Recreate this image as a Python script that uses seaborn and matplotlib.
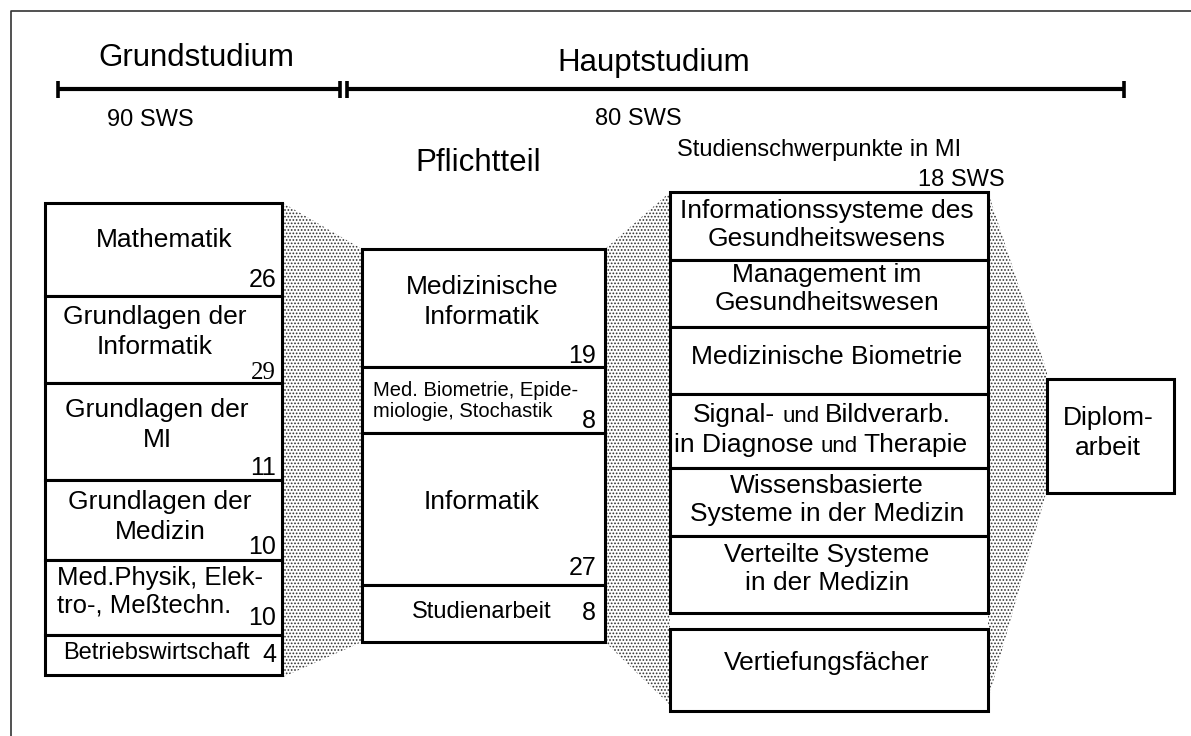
import numpy as np
import matplotlib.pyplot as plt
import seaborn as sns

# ── Daten ───────────────────────────────────────────────────────────────
phase_names = ["Grundstudium", "Hauptstudium"]
phase_sws = [90, 80]

grund_faecher = ["Mathematik", "Grundlagen der\nInformatik", "Grundlagen der\nMI",
                 "Grundlagen der\nMedizin", "Med.Physik, Elek-\ntro-, Meßtechn.",
                 "Betriebswirtschaft"]
grund_sws = [26, 29, 11, 10, 10, 4]

pflicht_titel = "Pflichtteil"
pflicht_faecher = ["Medizinische\nInformatik", "Med. Biometrie, Epide-\nmiologie, Stochastik",
                   "Informatik", "Studienarbeit"]
pflicht_sws = [19, 8, 27, 8]

schwerpunkt_titel = "Studienschwerpunkte in MI"
schwerpunkt_sws = 18
schwerpunkte = ["Informationssysteme des\nGesundheitswesens", "Management im\nGesundheitswesen",
                "Medizinische Biometrie", "Signal- und Bildverarb.\nin Diagnose und Therapie",
                "Wissensbasierte\nSysteme in der Medizin", "Verteilte Systeme\nin der Medizin"]
vertiefung = "Vertiefungsfächer"
diplom = "Diplom-\narbeit"

# ── Layout (Pixel, y nach unten) ────────────────────────────────────────
grund_x, grund_w = 45, 237
grund_edges = [203, 296, 383, 480, 560, 635, 675]
grund_text_x = [164, 155, 157, 160, 57, 156]
grund_text_y = [240, 332, 425, 517, 591, 653]
grund_num_y = [280, 373, 468, 547, 618, 655]

pflicht_x, pflicht_w = 362, 243
pflicht_edges = [249, 367, 433, 585, 642]
pflicht_text_y = [302, 401, 502, 612]
pflicht_num_y = [356, 421, 568, 613]

schwer_x, schwer_w = 670, 318
schwer_edges = [192, 260, 327, 394, 468, 536, 613]
schwer_text_y = [225, 289, 357, 428, 500, 569]

sns.set_theme(style="white")
plt.rcParams['font.family'] = ['Liberation Sans', 'DejaVu Sans']
plt.rcParams['text.color'] = 'black'
plt.rcParams['hatch.linewidth'] = 0.8

fig = plt.figure(figsize=(11.91, 7.36), dpi=100)
ax = fig.add_axes([0, 0, 1, 1])
ax.set_xlim(0, 1191)
ax.set_ylim(736, 0)
ax.axis('off')

# Rahmen
ax.plot([11, 11, 1200], [760, 11, 11], color='#333333', lw=1.2)

# Zeitleiste
lw_t = 3.0
ax.plot([58, 340], [89, 89], color='black', lw=lw_t, solid_capstyle='butt')
ax.plot([347, 1124], [89, 89], color='black', lw=lw_t, solid_capstyle='butt')
for xt in [58, 340, 347, 1124]:
    ax.plot([xt, xt], [81, 98], color='black', lw=2.6, solid_capstyle='butt')
ax.text(196, 58, phase_names[0], fontsize=22.5, ha='center', va='center')
ax.text(654, 63, phase_names[1], fontsize=22.5, ha='center', va='center')
ax.text(150, 120, f"{phase_sws[0]} SWS", fontsize=17, ha='center', va='center')
ax.text(638, 119, f"{phase_sws[1]} SWS", fontsize=17, ha='center', va='center')

# Verbindungsflächen (gepunktet)
shade = dict(facecolor='white', edgecolor='#333333', linewidth=0, hatch='.....', zorder=1)
ax.fill([283, 362, 362, 283], [203, 249, 642, 677], **shade)
ax.fill([605, 670, 670, 605], [249, 192, 705, 642], **shade)
ax.fill([988, 1047, 1047, 988], [192, 372, 490, 700], **shade)

box = dict(align='edge', color='white', edgecolor='black', linewidth=2.2, zorder=3)

# Grundstudium
tops = grund_edges[:-1]
heights = np.diff(grund_edges)
ax.bar([grund_x] * len(tops), heights, width=grund_w, bottom=tops, **box)
for lab, sws, tx, ty, ny in zip(grund_faecher, grund_sws, grund_text_x,
                                grund_text_y, grund_num_y):
    if lab.startswith("Med."):
        # linksbündig, Zeile für Zeile
        for k, line in enumerate(lab.split("\n")):
            ax.text(tx, ty - 13 + 27 * k, line, fontsize=18.5, ha='left',
                    va='center', zorder=4)
    else:
        size = 17 if lab == "Betriebswirtschaft" else 19
        ax.text(tx, ty, lab, fontsize=size, ha='center', va='center',
                linespacing=1.3, zorder=4)
    fam = ['Liberation Serif'] if sws == 29 else None
    ax.text(276, ny, str(sws), fontsize=18, ha='right', va='center', zorder=4,
            family=fam)

# Pflichtteil
ax.text(478, 163, pflicht_titel, fontsize=22.5, ha='center', va='center')
tops = pflicht_edges[:-1]
heights = np.diff(pflicht_edges)
ax.bar([pflicht_x] * len(tops), heights, width=pflicht_w, bottom=tops, **box)
for i, (lab, sws, ty, ny) in enumerate(zip(pflicht_faecher, pflicht_sws,
                                           pflicht_text_y, pflicht_num_y)):
    if i == 1:
        ax.text(373, ty, lab, fontsize=14.5, ha='left', va='center',
                linespacing=1.15, zorder=4)
    else:
        ax.text(482, ty, lab, fontsize=19 if i != 3 else 17, ha='center',
                va='center', linespacing=1.3, zorder=4)
    ax.text(596, ny, str(sws), fontsize=18, ha='right', va='center', zorder=4)

# Studienschwerpunkte
ax.text(677, 150, schwerpunkt_titel, fontsize=17, ha='left', va='center')
ax.text(1005, 180, f"{schwerpunkt_sws} SWS", fontsize=17, ha='right', va='center')
tops = schwer_edges[:-1]
heights = np.diff(schwer_edges)
ax.bar([schwer_x] * len(tops), heights, width=schwer_w, bottom=tops, **box)
for lab, ty in zip(schwerpunkte, schwer_text_y):
    if " und " in lab:
        # kleines "und" zwischen den Wortteilen
        for line, x0, base in zip(lab.split("\n"), [693, 674], [ty - 6, ty + 24]):
            left, right = line.split(" und ")
            t1 = ax.text(x0, base, left, fontsize=19, ha='left', va='baseline', zorder=4)
            t2 = ax.annotate("und", xy=(1, base), xycoords=(t1, 'data'),
                             xytext=(5, 0), textcoords='offset points',
                             fontsize=16, ha='left', va='baseline', zorder=4)
            ax.annotate(right, xy=(1, base), xycoords=(t2, 'data'),
                        xytext=(4, 0), textcoords='offset points',
                        fontsize=19, ha='left', va='baseline', zorder=4)
    else:
        ax.text(827, ty, lab, fontsize=19, ha='center', va='center',
                linespacing=1.18, zorder=4)

# Vertiefungsfächer
ax.bar([schwer_x], [711 - 629], width=schwer_w, bottom=[629], **box)
ax.text(827, 663, vertiefung, fontsize=19, ha='center', va='center', zorder=4)

# Diplomarbeit
ax.bar([1047], [493 - 379], width=1174 - 1047, bottom=[379], **box)
ax.text(1108, 433, diplom, fontsize=19, ha='center', va='center',
        linespacing=1.3, zorder=4)

fig.savefig("out.png", dpi=100)
